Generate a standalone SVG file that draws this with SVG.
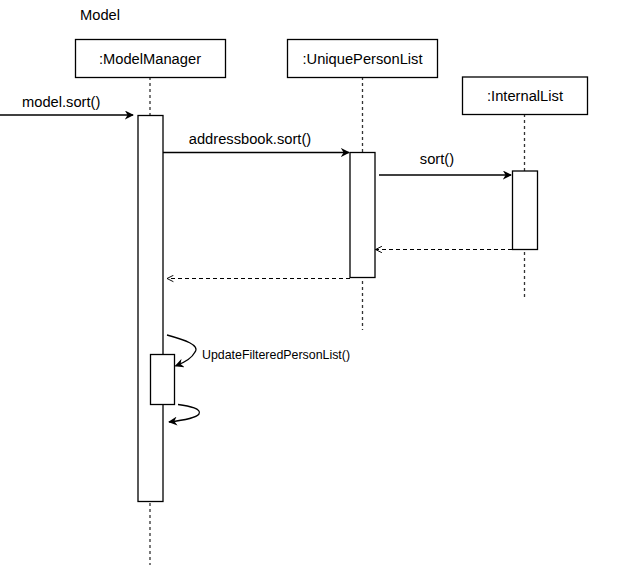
<svg xmlns="http://www.w3.org/2000/svg" width="633" height="575" viewBox="0 0 633 575">
  <style>
    text { font-family: "Liberation Sans", Arial, sans-serif; fill: #000; }
    .lbl { font-size: 14.7px; }
    .box { fill: #fff; stroke: #000; stroke-width: 1.3; }
    .act { fill: #fff; stroke: #000; stroke-width: 1.3; }
    .life { stroke: #333; stroke-width: 1.3; stroke-dasharray: 3 3; fill: none; }
    .msg { stroke: #000; stroke-width: 1.3; fill: none; }
    .ret { stroke: #000; stroke-width: 1.2; fill: none; stroke-dasharray: 4 3; }
  </style>
  <defs>
    <marker id="solid" viewBox="0 0 10 10" refX="9" refY="5" markerWidth="9" markerHeight="9" markerUnits="userSpaceOnUse" orient="auto">
      <path d="M0,0 L10,5 L0,10 L3,5 Z" fill="#000"/>
    </marker>
    <marker id="open" viewBox="0 0 10 10" refX="9" refY="5" markerWidth="8" markerHeight="8" markerUnits="userSpaceOnUse" orient="auto">
      <path d="M1,1 L9,5 L1,9" fill="none" stroke="#000" stroke-width="1.2"/>
    </marker>
  </defs>

  <text class="lbl" x="80" y="20">Model</text>

  <!-- lifelines -->
  <g id="lifelines">
    <line class="life" x1="150" y1="77" x2="150" y2="565"/>
    <line class="life" x1="362.5" y1="77" x2="362.5" y2="330"/>
    <line class="life" x1="524.5" y1="114" x2="524.5" y2="299"/>
  </g>

  <!-- participants -->
  <g id="modelManager">
    <rect class="box" x="75.5" y="39.5" width="150" height="38"/>
    <text class="lbl" x="150" y="63.5" text-anchor="middle">:ModelManager</text>
  </g>
  <g id="uniquePersonList">
    <rect class="box" x="287.5" y="39.5" width="150" height="38"/>
    <text class="lbl" x="362.5" y="63.5" text-anchor="middle">:UniquePersonList</text>
  </g>
  <g id="internalList">
    <rect class="box" x="462.5" y="77" width="125" height="37.5"/>
    <text class="lbl" x="525" y="101" text-anchor="middle">:InternalList</text>
  </g>

  <!-- activation bars -->
  <g id="mmActivation">
    <rect class="act" x="138" y="115.5" width="25" height="386"/>
  </g>
  <g id="uplActivation">
    <rect class="act" x="350" y="152.5" width="25" height="125"/>
  </g>
  <g id="ilActivation">
    <rect class="act" x="512.5" y="171" width="25" height="78.5"/>
  </g>
  <g id="mmSelfActivation">
    <rect class="act" x="150.5" y="354.5" width="24" height="50"/>
  </g>

  <!-- messages -->
  <g id="connectors">
    <line class="msg" x1="0" y1="115" x2="133" y2="115" marker-end="url(#solid)"/>
    <line class="msg" x1="163" y1="152.5" x2="349" y2="152.5" marker-end="url(#solid)"/>
    <line class="msg" x1="379" y1="175" x2="511" y2="175" marker-end="url(#solid)"/>
    <line class="ret" x1="512" y1="249.5" x2="375.5" y2="249.5" marker-end="url(#open)"/>
    <line class="ret" x1="350" y1="278.5" x2="167" y2="278.5" marker-end="url(#open)"/>
    <path class="msg" d="M167,335 C185,340 200,345 195,352 C192,358 186,362 175.5,366" marker-end="url(#solid)"/>
    <path class="msg" d="M178,404.5 C190,406 202,409 199,414 C196,418 186,420 169,422" marker-end="url(#solid)"/>
  </g>

  <!-- message labels -->
  <g id="labels">
    <text class="lbl" x="22" y="107">model.sort()</text>
    <text class="lbl" x="250" y="144" text-anchor="middle">addressbook.sort()</text>
    <text class="lbl" x="437" y="164" text-anchor="middle">sort()</text>
    <text x="202" y="359" font-size="12.4">UpdateFilteredPersonList()</text>
  </g>
</svg>
